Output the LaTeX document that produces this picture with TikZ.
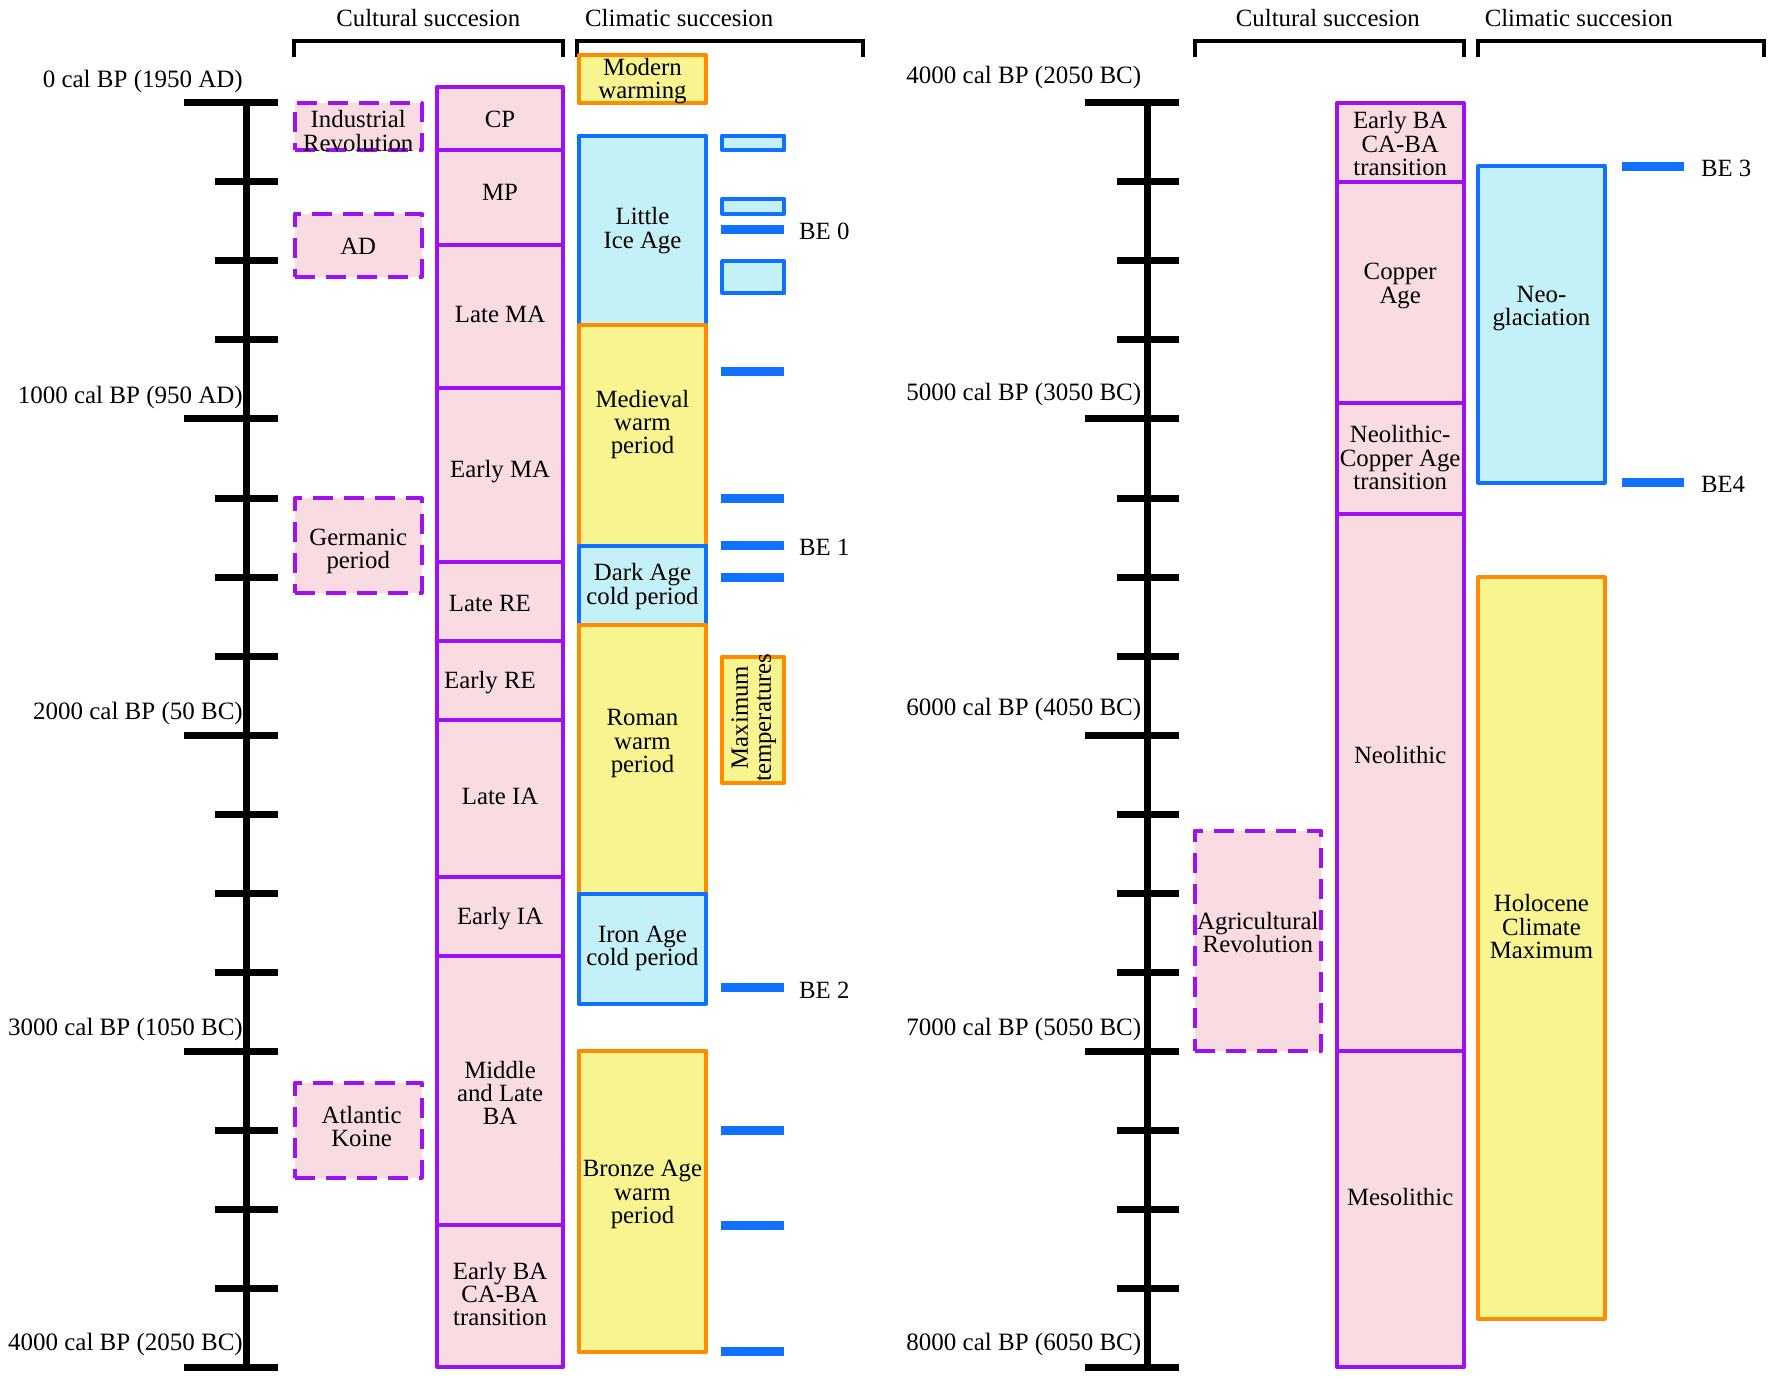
\documentclass[tikz,border=0pt]{standalone}
\usepackage{fontspec}
\setmainfont{Liberation Serif}
\definecolor{cpurple}{HTML}{A010F0}
\definecolor{cpink}{HTML}{F8DCE2}
\definecolor{cblue}{HTML}{1070FF}
\definecolor{ccyan}{HTML}{C4F0F8}
\definecolor{corange}{HTML}{FF8C00}
\definecolor{cyellow}{HTML}{F8F490}
\tikzset{
  box/.style={rectangle, inner sep=0pt, outer sep=0pt, line width=4pt, line join=round},
  cult/.style={box, draw=cpurple, fill=cpink},
  cultd/.style={box, draw=cpurple, fill=cpink, dash pattern=on 20pt off 11pt},
  warm/.style={box, draw=corange, fill=cyellow},
  cold/.style={box, draw=cblue, fill=ccyan},
  bebar/.style={rectangle, inner sep=0pt, fill=cblue, minimum height=9pt},
  lbl/.style={font=\fontsize{24.8}{23.2}\selectfont, align=center, inner sep=0pt},
  axlbl/.style={font=\fontsize{25}{25}\selectfont, anchor=east, inner sep=0pt},
  belbl/.style={font=\fontsize{24.8}{25}\selectfont, anchor=west, inner sep=0pt},
  head/.style={font=\fontsize{24.8}{25}\selectfont, inner sep=0pt},
  axisline/.style={line width=7pt, black},
  bracket/.style={line width=4pt, black},
}
% name, style, x1, y1, x2, y2, text, dx, dy
\newcommand{\bx}[9]{%
  \node[#2, minimum width={(#5-#3)*1.1301pt}, minimum height={(#6-#4)*1.1301pt}] (#1) at ({(#3+#5)/2},{(#4+#6)/2}) {};
  \node[lbl] (#1t) at ([xshift={(#8)*1.1301pt}, yshift={-(#9+2)*1.1301pt}]#1.center) {#7};
}
% name, x1, x2, y
\newcommand{\bebar}[4]{%
  \node[bebar, minimum width={(#3-#2)*1.1301pt}] (#1) at ({(#2+#3)/2},#4) {};
}
% axis x, major left, minor left, right end
\newcommand{\timeaxis}[4]{%
  \draw[axisline] (#1,91) -- (#1,1210);
  \foreach \k in {0,...,16}{%
    \pgfmathsetmacro\yy{91+\k*69.9375}%
    \pgfmathtruncatemacro\mm{mod(\k,4)}%
    \ifnum\mm=0
      \draw[line width=7pt] (#2,\yy) -- (#4,\yy);
    \else
      \draw[line width=7pt] (#3,\yy) -- (#4,\yy);
    \fi
  }
}
\begin{document}
\begin{tikzpicture}[x=1.1301pt, y=-1.1301pt]
\useasboundingbox (0,0) rectangle (1568,1218);
\fill[white] (0,0) rectangle (1568,1218);

% ---------------- LEFT PANEL ----------------
\node[head] (h1) at (379,16) {Cultural succesion};
\node[head] (h2) at (601,16) {Climatic succesion};
\draw[bracket] (260,50) -- (260,36) -- (498,36) -- (498,50);
\draw[bracket] (511,50) -- (511,36) -- (764,36) -- (764,50);

\timeaxis{218}{163}{190}{246}
\node[axlbl] (a0) at (215,72) {0 cal BP (1950 AD)};
\node[axlbl] (a1) at (215,352) {1000 cal BP (950 AD)};
\node[axlbl] (a2) at (215,631) {2000 cal BP (50 BC)};
\node[axlbl] (a3) at (215,911) {3000 cal BP (1050 BC)};
\node[axlbl] (a4) at (215,1190) {4000 cal BP (2050 BC)};

% dashed cultural events
\bx{ir}{cultd}{261}{91}{373}{133}{Industrial\\Revolution}{0}{2}
\bx{ad}{cultd}{261}{189}{373}{245}{AD}{0}{-1}
\bx{ger}{cultd}{261}{441}{373}{525}{Germanic\\period}{0}{3}
\bx{ak}{cultd}{261}{958}{373}{1042}{Atlantic\\Koine}{3}{-5}

% cultural column
\bx{cp}{cult}{387}{77}{498}{133}{CP}{0}{-1}
\bx{mp}{cult}{387}{133}{498}{217}{MP}{0}{-7}
\bx{lma}{cult}{387}{217}{498}{343}{Late MA}{0}{-4}
\bx{ema}{cult}{387}{343}{498}{497}{Early MA}{0}{-5}
\bx{lre}{cult}{387}{497}{498}{567}{Late RE}{-9}{0}
\bx{ere}{cult}{387}{567}{498}{637}{Early RE}{-9}{0}
\bx{lia}{cult}{387}{637}{498}{776}{Late IA}{0}{-4}
\bx{eia}{cult}{387}{776}{498}{846}{Early IA}{0}{0}
\bx{mlba}{cult}{387}{846}{498}{1084}{Middle\\and Late\\BA}{0}{0}
\bx{eba}{cult}{387}{1084}{498}{1210}{Early BA\\CA-BA\\transition}{0}{-4}

% climatic column
\bx{mw}{warm}{512}{49}{625}{91}{Modern\\warming}{0}{0}
\bx{lic}{cold}{512}{120}{625}{288}{Little\\Ice Age}{0}{-2}
\bx{mwp}{warm}{512}{288}{625}{483}{Medieval\\warm\\period}{0}{-12}
\bx{dac}{cold}{512}{483}{625}{553}{Dark Age\\cold period}{0}{-1}
\bx{rwp}{warm}{512}{553}{625}{791}{Roman\\warm\\period}{0}{-16}
\bx{iac}{cold}{512}{791}{625}{888}{Iron Age\\cold period}{0}{-2}
\bx{bawp}{warm}{512}{930}{625}{1196}{Bronze Age\\warm\\period}{0}{-8}

% small events
\bx{s1}{cold}{639}{120}{694}{133}{}{0}{0}
\bx{s2}{cold}{639}{176}{694}{189}{}{0}{0}
\bx{s3}{cold}{639}{231}{694}{259}{}{0}{0}
\node[warm, minimum width={55*1.1301pt}, minimum height={112*1.1301pt}] (mt) at (666.5,637) {};
\node[lbl, rotate=90] (mtt) at (667,635) {Maximum\\temperatures};

\bebar{b1}{638}{694}{203}
\bebar{b2}{638}{694}{329}
\bebar{b3}{638}{694}{441}
\bebar{b4}{638}{694}{483}
\bebar{b5}{638}{694}{511}
\bebar{b6}{638}{694}{874}
\bebar{b7}{638}{694}{1000}
\bebar{b8}{638}{694}{1084}
\bebar{b9}{638}{694}{1196}
\node[belbl] (be0) at (707,205) {BE 0};
\node[belbl] (be1) at (707,484) {BE 1};
\node[belbl] (be2) at (707,876) {BE 2};

% ---------------- RIGHT PANEL ----------------
\node[head] (h3) at (1175,16) {Cultural succesion};
\node[head] (h4) at (1397,16) {Climatic succesion};
\draw[bracket] (1057,50) -- (1057,36) -- (1295,36) -- (1295,50);
\draw[bracket] (1308,50) -- (1308,36) -- (1561,36) -- (1561,50);

\timeaxis{1015}{960}{988}{1043}
\node[axlbl] (r0) at (1010,69) {4000 cal BP (2050 BC)};
\node[axlbl] (r1) at (1010,349) {5000 cal BP (3050 BC)};
\node[axlbl] (r2) at (1010,628) {6000 cal BP (4050 BC)};
\node[axlbl] (r3) at (1010,911) {7000 cal BP (5050 BC)};
\node[axlbl] (r4) at (1010,1190) {8000 cal BP (6050 BC)};

\bx{agr}{cultd}{1057}{735}{1169}{930}{Agricultural\\Revolution}{0}{-9}

\bx{eba2}{cult}{1183}{91}{1295}{161}{Early BA\\CA-BA\\transition}{0}{-1}
\bx{ca}{cult}{1183}{161}{1295}{357}{Copper\\Age}{0}{-8}
\bx{nca}{cult}{1183}{357}{1295}{455}{Neolithic-\\Copper Age\\transition}{0}{-3}
\bx{neo}{cult}{1183}{455}{1295}{930}{Neolithic}{0}{-26}
\bx{meso}{cult}{1183}{930}{1295}{1210}{Mesolithic}{0}{-13}

\bx{neog}{cold}{1308}{147}{1420}{427}{Neo-\\glaciation}{0}{-16}
\bx{hcm}{warm}{1308}{511}{1420}{1167}{Holocene\\Climate\\Maximum}{0}{-21}

\bebar{b10}{1435}{1490}{147}
\bebar{b11}{1435}{1490}{427}
\node[belbl] (be3) at (1505,149) {BE 3};
\node[belbl] (be4) at (1505,429) {BE4};
\end{tikzpicture}
\end{document}
